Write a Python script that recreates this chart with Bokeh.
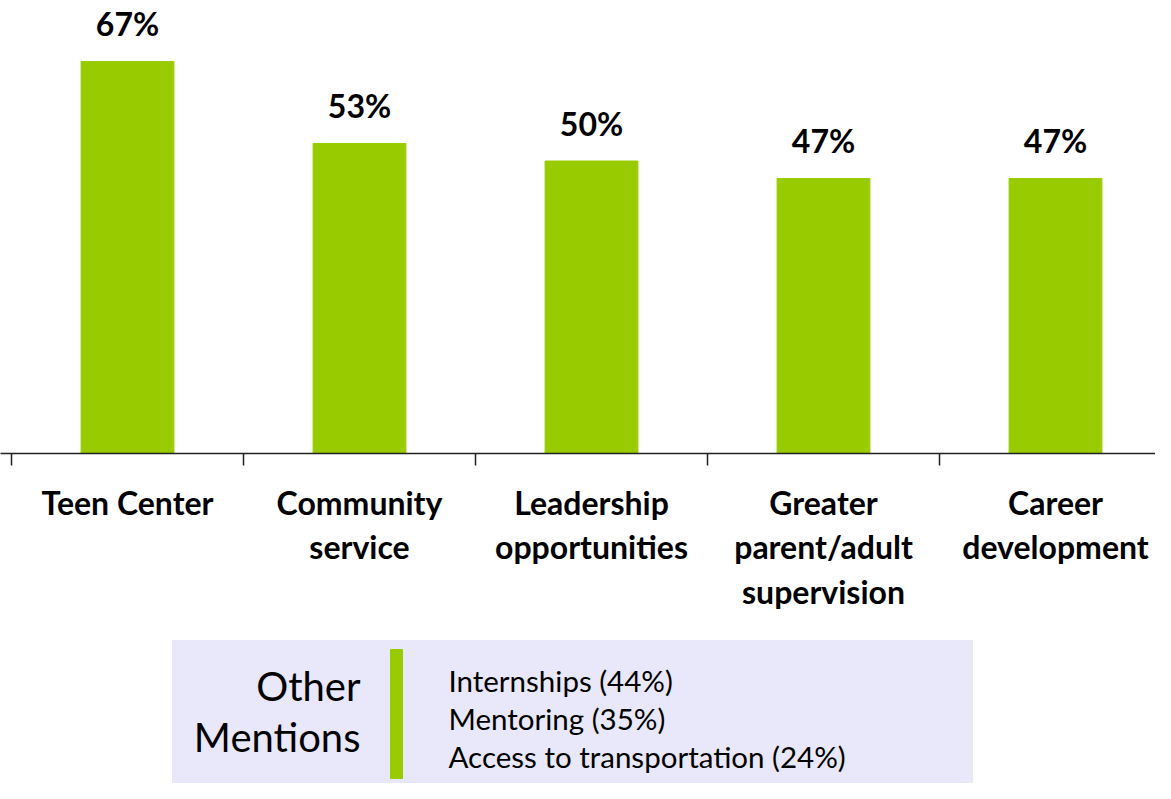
from bokeh.plotting import figure
from bokeh.layouts import column
from bokeh.models import Range1d, FixedTicker, ColumnDataSource
from bokeh.core.properties import value
from bokeh.embed import file_html
from bokeh.resources import INLINE

categories = ["Teen Center", "Community\nservice", "Leadership\nopportunities",
              "Greater\nparent/adult\nsupervision", "Career\ndevelopment"]
values = [67, 53, 50, 47, 47]
other_labels = ["Internships", "Mentoring", "Access to transportation"]
other_values = [44, 35, 24]
other_title = ["Other", "Mentions"]

GREEN = "#99CC00"
FONT = "Lato"
W = 1155
TOP_H = 638
FRAME_H = 453

xs = [i + 0.5 for i in range(len(categories))]
src = ColumnDataSource(dict(x=xs, top=values, label=[f"{v}%" for v in values]))

cat_px = 232.0
p = figure(width=W, height=TOP_H,
           x_range=Range1d(-11 / cat_px, -11 / cat_px + W / cat_px),
           y_range=Range1d(0, FRAME_H / 5.85),
           output_backend="svg", toolbar_location=None,
           min_border_left=0, min_border_right=0, min_border_top=0,
           min_border_bottom=TOP_H - FRAME_H)
p.vbar(x="x", top="top", width=0.4, bottom=0, color=GREEN, source=src)
p.text(x="x", y="top", text="label", source=src, text_align="center",
       text_baseline="alphabetic", y_offset=-38, text_font=value(FONT),
       text_font_style="bold", text_font_size="32px", text_color="black")

p.yaxis.visible = False
p.xgrid.visible = False
p.ygrid.visible = False
p.outline_line_color = None
ax = p.xaxis[0]
ax.ticker = FixedTicker(ticks=xs, minor_ticks=list(range(len(categories) + 1)))
ax.major_label_overrides = {x: c for x, c in zip(xs, categories)}
ax.major_tick_out = 0
ax.major_tick_in = 0
ax.minor_tick_out = 12
ax.minor_tick_in = 0
ax.axis_line_color = "#222222"
ax.axis_line_width = 1.5
ax.minor_tick_line_color = "#222222"
ax.minor_tick_line_width = 1.5
ax.major_label_standoff = 17
ax.major_label_text_font = FONT
ax.major_label_text_font_style = "bold"
ax.major_label_text_font_size = "32px"
ax.major_label_text_color = "black"
ax.major_label_text_line_height = 1.15

BOT_H = 783 - TOP_H
q = figure(width=W, height=BOT_H, x_range=Range1d(0, W), y_range=Range1d(783, TOP_H),
           output_backend="svg", toolbar_location=None, min_border=0)
q.axis.visible = False
q.grid.visible = False
q.outline_line_color = None
q.quad(left=172, right=972, top=640, bottom=783, color="#E8E8FA")
q.quad(left=390, right=402, top=649, bottom=778, color=GREEN)
q.text(x=[360, 360], y=[685, 736], text=other_title, text_align="right",
       text_baseline="middle", text_font=value(FONT), text_font_size="40px",
       text_color="black")
q.text(x=[448] * 3, y=[680, 718, 756],
       text=[f"{l} ({v}%)" for l, v in zip(other_labels, other_values)],
       text_align="left", text_baseline="middle", text_font=value(FONT),
       text_font_size="29.5px", text_color="black")

layout = column(p, q, spacing=0)
open("out.html", "w").write(file_html(layout, INLINE))
